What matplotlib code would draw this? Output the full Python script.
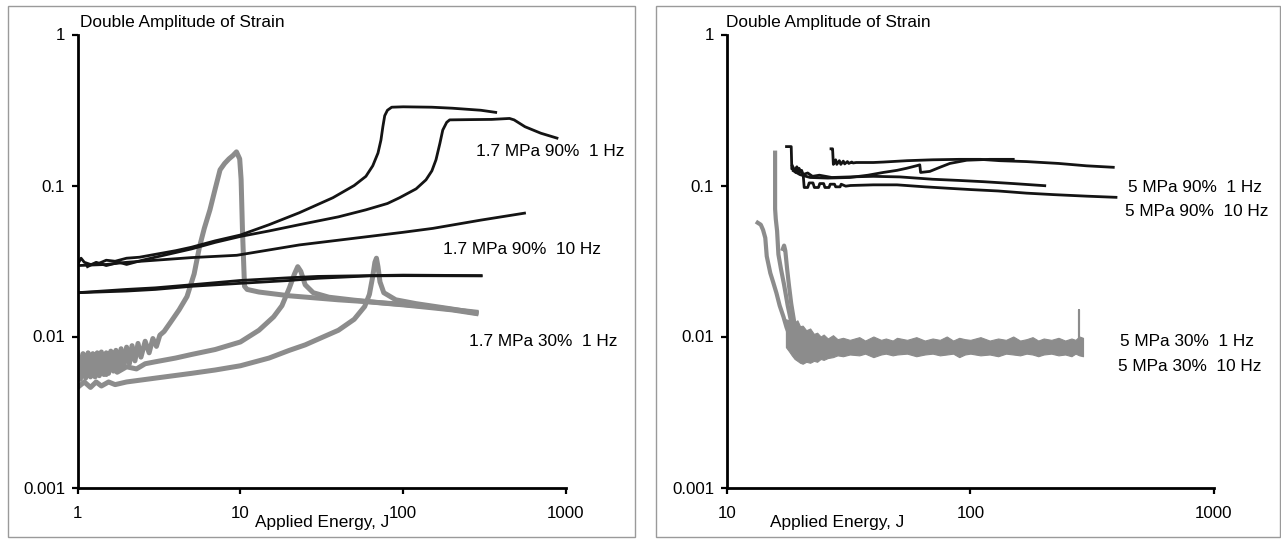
import matplotlib
matplotlib.use("Agg")
import matplotlib.pyplot as plt
from matplotlib.patches import Rectangle
from matplotlib.ticker import FixedLocator, FixedFormatter, NullLocator

plt.rcParams['font.family'] = ['Liberation Sans', 'DejaVu Sans']
plt.rcParams['font.size'] = 12.4

# ---------------- Left panel data (1.7 MPa) ----------------
# 90 %, 1 Hz (two tests)
a_x = [1.0, 1.05, 1.1, 1.2, 1.35, 1.5, 1.7, 2.0, 2.4, 3.0, 4.0, 5.0, 7.0, 10, 15, 23, 37, 50, 59, 65, 70, 73, 75, 77, 80, 85, 100, 150, 200, 300, 370]
a_y = [0.030, 0.033, 0.031, 0.030, 0.0305, 0.032, 0.0315, 0.033, 0.0335, 0.035, 0.037, 0.039, 0.043, 0.047, 0.055, 0.066, 0.083, 0.100, 0.115, 0.135, 0.164, 0.20, 0.245, 0.29, 0.315, 0.33, 0.332, 0.33, 0.325, 0.315, 0.305]
b_x = [1.15, 1.3, 1.5, 1.8, 2.0, 2.5, 3.0, 5.0, 7.0, 10, 15, 23, 40, 59, 80, 95, 120, 138, 150, 159, 168, 175, 185, 193, 250, 350, 450, 480, 560, 700, 880]
b_y = [0.029, 0.031, 0.0295, 0.031, 0.030, 0.032, 0.0335, 0.038, 0.042, 0.046, 0.050, 0.055, 0.062, 0.069, 0.076, 0.083, 0.095, 0.109, 0.125, 0.148, 0.19, 0.233, 0.262, 0.272, 0.273, 0.274, 0.278, 0.272, 0.245, 0.222, 0.206]
# 90 %, 10 Hz
c_x = [1.0, 1.5, 2.0, 3.0, 5.0, 9.5, 23, 62, 100, 152, 300, 556]
c_y = [0.0295, 0.030, 0.031, 0.032, 0.0333, 0.0345, 0.0404, 0.046, 0.049, 0.052, 0.059, 0.0656]
d_x = [1.0, 2.0, 3.0, 5.0, 10, 20, 30, 62, 100, 301]
d_y = [0.0195, 0.0205, 0.021, 0.022, 0.0235, 0.0245, 0.025, 0.0253, 0.0255, 0.0253]
e_x = [1.0, 2.0, 3.0, 5.0, 10, 20, 30, 62, 100, 301]
e_y = [0.0195, 0.020, 0.0205, 0.0215, 0.0225, 0.0235, 0.0243, 0.0252, 0.0253, 0.0252]
# 30 %, 1 Hz (three tests)
g1_x = [1.0, 1.04, 1.08, 1.12, 1.16, 1.2, 1.24, 1.28, 1.32, 1.36, 1.4, 1.45, 1.5, 1.55, 1.6, 1.66, 1.72, 1.78, 1.85, 1.92, 2.0, 2.08, 2.16, 2.25, 2.35, 2.45, 2.6, 2.75, 2.9, 3.05, 3.2, 3.4, 3.7, 4.2, 4.7, 5.2, 5.6, 6.0, 6.5, 7.0, 7.5, 8.0, 8.5, 9.0, 9.46, 9.9, 10.1, 10.3, 10.6, 11.0, 13, 20, 40, 60, 100, 150, 200, 280]
g1_y = [0.0078, 0.0052, 0.0077, 0.0053, 0.0078, 0.0054, 0.0077, 0.0054, 0.0078, 0.0055, 0.0079, 0.0056, 0.0078, 0.0057, 0.0080, 0.0059, 0.0081, 0.0061, 0.0083, 0.0063, 0.0085, 0.0066, 0.0087, 0.0069, 0.0090, 0.0073, 0.0093, 0.0078, 0.0097, 0.0086, 0.0102, 0.0108, 0.0123, 0.0150, 0.0184, 0.026, 0.039, 0.052, 0.069, 0.095, 0.127, 0.140, 0.150, 0.158, 0.167, 0.150, 0.11, 0.05, 0.0215, 0.0205, 0.0197, 0.0186, 0.0175, 0.017, 0.0162, 0.0155, 0.015, 0.0142]
g2_x = [1.0, 1.1, 1.2, 1.3, 1.4, 1.5, 1.6, 1.75, 2.0, 2.3, 2.6, 3.0, 4.0, 5.0, 7.0, 10, 13, 16, 18, 20, 21.5, 22.5, 23.5, 25, 28, 35, 50, 70, 100, 150, 200, 280]
g2_y = [0.0066, 0.0055, 0.0065, 0.0056, 0.0064, 0.0056, 0.0064, 0.0058, 0.0063, 0.0061, 0.0066, 0.0068, 0.0072, 0.0076, 0.0082, 0.0092, 0.011, 0.0135, 0.016, 0.021, 0.026, 0.029, 0.027, 0.022, 0.0195, 0.0182, 0.0174, 0.0168, 0.0163, 0.0157, 0.0151, 0.0145]
g3_x = [1.0, 1.1, 1.2, 1.3, 1.4, 1.55, 1.7, 2.0, 3.0, 5.0, 7.0, 10, 15, 20, 25, 30, 40, 50, 58, 62, 65, 67, 68.5, 70, 72, 76, 90, 120, 200, 280]
g3_y = [0.0046, 0.0050, 0.0046, 0.0050, 0.0047, 0.0050, 0.0048, 0.0050, 0.0053, 0.0057, 0.0060, 0.0064, 0.0072, 0.0081, 0.0088, 0.0096, 0.011, 0.013, 0.0158, 0.019, 0.025, 0.031, 0.033, 0.029, 0.023, 0.0195, 0.0175, 0.0165, 0.0152, 0.0143]

left_labels = ["1.7 MPa 90%  1 Hz", "1.7 MPa 90%  10 Hz", "1.7 MPa 30%  1 Hz"]

# ---------------- Right panel data (5 MPa) ----------------
r1_x = [17.6, 18.4, 18.5, 19.0, 19.4, 19.8, 20.3, 20.6, 20.8, 21.5, 21.8, 22.6, 22.9, 23.8, 24.1, 25.0, 25.3, 26.3, 26.6, 27.7, 28.0, 29.2, 29.5, 30.8, 32.2, 40, 50, 65, 80, 100, 130, 170, 220, 300, 396]
r1_y = [0.181, 0.181, 0.129, 0.125, 0.133, 0.122, 0.126, 0.118, 0.097, 0.097, 0.104, 0.104, 0.097, 0.097, 0.103, 0.103, 0.097, 0.097, 0.102, 0.102, 0.098, 0.098, 0.102, 0.099, 0.100, 0.101, 0.101, 0.098, 0.096, 0.094, 0.092, 0.089, 0.087, 0.085, 0.0835]
r2_x = [18.6, 19.2, 19.8, 20.5, 21.5, 22.5, 24, 27, 32, 40, 51.4, 70, 90, 113, 150, 202]
r2_y = [0.135, 0.122, 0.130, 0.118, 0.121, 0.115, 0.117, 0.113, 0.114, 0.115, 0.114, 0.110, 0.108, 0.106, 0.103, 0.0997]
r3_x = [26.8, 27.2, 27.4, 28.0, 28.3, 29.0, 29.4, 30.1, 30.5, 31.3, 31.7, 32.6, 33.0, 34.0, 36, 40, 44, 55, 70, 90, 110, 132, 170, 230, 300, 386]
r3_y = [0.175, 0.175, 0.138, 0.148, 0.138, 0.146, 0.138, 0.145, 0.139, 0.144, 0.140, 0.143, 0.141, 0.142, 0.142, 0.142, 0.143, 0.146, 0.148, 0.149, 0.149, 0.146, 0.144, 0.140, 0.135, 0.132]
r4_x = [18.8, 20, 22, 26, 32, 38, 43.9, 50, 54.7, 60, 62, 62.5, 68.2, 75, 82.4, 96.6, 120, 150]
r4_y = [0.125, 0.118, 0.113, 0.112, 0.113, 0.117, 0.122, 0.126, 0.130, 0.135, 0.137, 0.122, 0.124, 0.132, 0.140, 0.147, 0.149, 0.149]
s1_x = [13.4, 13.8, 14.1, 14.4, 14.6, 15.1, 15.5, 16.0, 16.5, 17.1, 17.6, 18.2, 19.0, 20.0]
s1_y = [0.0567, 0.055, 0.0508, 0.045, 0.034, 0.0263, 0.023, 0.0194, 0.016, 0.0135, 0.0115, 0.010, 0.0092, 0.0088]
s2_x = [15.8, 15.8, 15.9, 16.1, 16.3, 16.7, 17.2, 17.8, 18.5, 19.5]
s2_y = [0.165, 0.07, 0.06, 0.05, 0.035, 0.028, 0.022, 0.016, 0.012, 0.0095]
s3_x = [17.0, 17.2, 17.4, 17.7, 18.0, 18.4, 19.0, 20.0]
s3_y = [0.038, 0.040, 0.037, 0.028, 0.022, 0.0165, 0.012, 0.0098]
band_x = [17.5, 18.0, 18.5, 19.0, 19.5, 20.0, 20.5, 21.2, 22, 22.8, 23.5, 24.3, 25, 26, 27.3, 28.5, 30, 32, 35, 37, 40, 43, 45, 48, 50, 55, 60, 65, 70, 75, 80, 85, 90, 95, 100, 110, 120, 130, 140, 150, 160, 170, 180, 190, 200, 215, 230, 245, 260, 270, 280, 290]
band_hi = [0.0130, 0.0128, 0.0135, 0.0124, 0.0128, 0.0117, 0.0118, 0.0110, 0.0113, 0.0104, 0.0106, 0.0100, 0.0103, 0.0097, 0.0102, 0.0096, 0.0098, 0.0095, 0.0099, 0.0094, 0.0100, 0.0095, 0.0097, 0.0094, 0.0098, 0.0095, 0.0099, 0.0094, 0.0097, 0.0095, 0.0100, 0.0094, 0.0098, 0.0096, 0.0095, 0.0099, 0.0094, 0.0097, 0.0095, 0.0100, 0.0094, 0.0096, 0.0099, 0.0094, 0.0097, 0.0095, 0.0098, 0.0094, 0.0097, 0.0095, 0.0100, 0.0098]
band_lo = [0.0085, 0.0080, 0.0075, 0.0071, 0.0069, 0.0067, 0.0066, 0.0068, 0.0067, 0.0069, 0.0068, 0.0071, 0.0070, 0.0072, 0.0073, 0.0075, 0.0074, 0.0076, 0.0075, 0.0077, 0.0073, 0.0076, 0.0077, 0.0075, 0.0076, 0.0077, 0.0074, 0.0076, 0.0077, 0.0075, 0.0076, 0.0077, 0.0073, 0.0076, 0.0077, 0.0075, 0.0076, 0.0074, 0.0077, 0.0076, 0.0075, 0.0077, 0.0076, 0.0074, 0.0076, 0.0077, 0.0075, 0.0076, 0.0074, 0.0077, 0.0075, 0.0074]
spike_x = [280, 280, 280]
spike_y = [0.0095, 0.0150, 0.0095]

right_labels = ["5 MPa 90%  1 Hz", "5 MPa 90%  10 Hz", "5 MPa 30%  1 Hz", "5 MPa 30%  10 Hz"]

BLACK = '#141414'
GRAY = '#8c8c8c'
W, H = 1281, 541

fig = plt.figure(figsize=(W / 100, H / 100), dpi=100)


def fx(px):
    return px / W


def fy(py):
    return 1 - py / H


def make_axes(x0, x1, xlim, xticks, xticklabels):
    ax = fig.add_axes([fx(x0), fy(487.5), fx(x1) - fx(x0), fy(34.5) - fy(487.5)])
    ax.set_xscale('log')
    ax.set_yscale('log')
    ax.set_xlim(*xlim)
    ax.set_ylim(0.001, 1)
    for s in ('top', 'right'):
        ax.spines[s].set_visible(False)
    for s in ('left', 'bottom'):
        ax.spines[s].set_linewidth(2.0)
        ax.spines[s].set_color('black')
        ax.spines[s].set_zorder(5)
    ax.xaxis.set_major_locator(FixedLocator(xticks))
    ax.xaxis.set_major_formatter(FixedFormatter(xticklabels))
    ax.xaxis.set_minor_locator(NullLocator())
    ax.yaxis.set_major_locator(FixedLocator([0.001, 0.01, 0.1, 1]))
    ax.yaxis.set_major_formatter(FixedFormatter(['0.001', '0.01', '0.1', '1']))
    ax.yaxis.set_minor_locator(NullLocator())
    ax.tick_params(axis='x', direction='out', length=4.5, width=1.6, pad=9, labelsize=12.2)
    ax.tick_params(axis='y', direction='out', length=4.5, width=1.6, pad=4.5, labelsize=12.2)
    ax.patch.set_alpha(0)
    return ax


# ---------------- Left panel ----------------
axL = make_axes(77.6, 566, (1, 1000), [1, 10, 100, 1000], ['1', '10', '100', '1000'])
for gx, gy in ((g1_x, g1_y), (g2_x, g2_y), (g3_x, g3_y)):
    axL.plot(gx, gy, color=GRAY, lw=3.6)
for bx, by in ((a_x, a_y), (b_x, b_y), (c_x, c_y), (d_x, d_y), (e_x, e_y)):
    axL.plot(bx, by, color=BLACK, lw=2.0)

# ---------------- Right panel ----------------
axR = make_axes(726.7, 1214, (10, 1000), [10, 100, 1000], ['10', '100', '1000'])
axR.fill_between(band_x, band_lo, band_hi, color=GRAY, lw=0.8, edgecolor=GRAY)
for sx, sy in ((s1_x, s1_y), (s2_x, s2_y), (s3_x, s3_y)):
    axR.plot(sx, sy, color=GRAY, lw=3.0)
axR.plot(spike_x, spike_y, color=GRAY, lw=1.5)
for rx, ry in ((r1_x, r1_y), (r2_x, r2_y), (r3_x, r3_y), (r4_x, r4_y)):
    axR.plot(rx, ry, color=BLACK, lw=2.0)

# ---------------- Texts ----------------
fig.text(fx(80), fy(27), "Double Amplitude of Strain", ha='left', va='baseline')
fig.text(fx(726), fy(27), "Double Amplitude of Strain", ha='left', va='baseline')
fig.text(fx(255), fy(527), "Applied Energy, J", ha='left', va='baseline')
fig.text(fx(770), fy(527), "Applied Energy, J", ha='left', va='baseline')

for (px, py), t in zip([(476, 156), (443, 254), (469, 346)], left_labels):
    fig.text(fx(px), fy(py), t, ha='left', va='baseline')
for (px, py), t in zip([(1128, 192), (1125, 216), (1120, 346), (1118, 371)], right_labels):
    fig.text(fx(px), fy(py), t, ha='left', va='baseline')

# panel frames
fig.add_artist(Rectangle((fx(8), fy(537)), fx(635) - fx(8), fy(6) - fy(537),
                         transform=fig.transFigure, fill=False, ec='#9a9a9a', lw=1.0))
fig.add_artist(Rectangle((fx(655.5), fy(537)), fx(1280) - fx(655.5), fy(6) - fy(537),
                         transform=fig.transFigure, fill=False, ec='#9a9a9a', lw=1.0))

fig.savefig('out.png', dpi=100)
